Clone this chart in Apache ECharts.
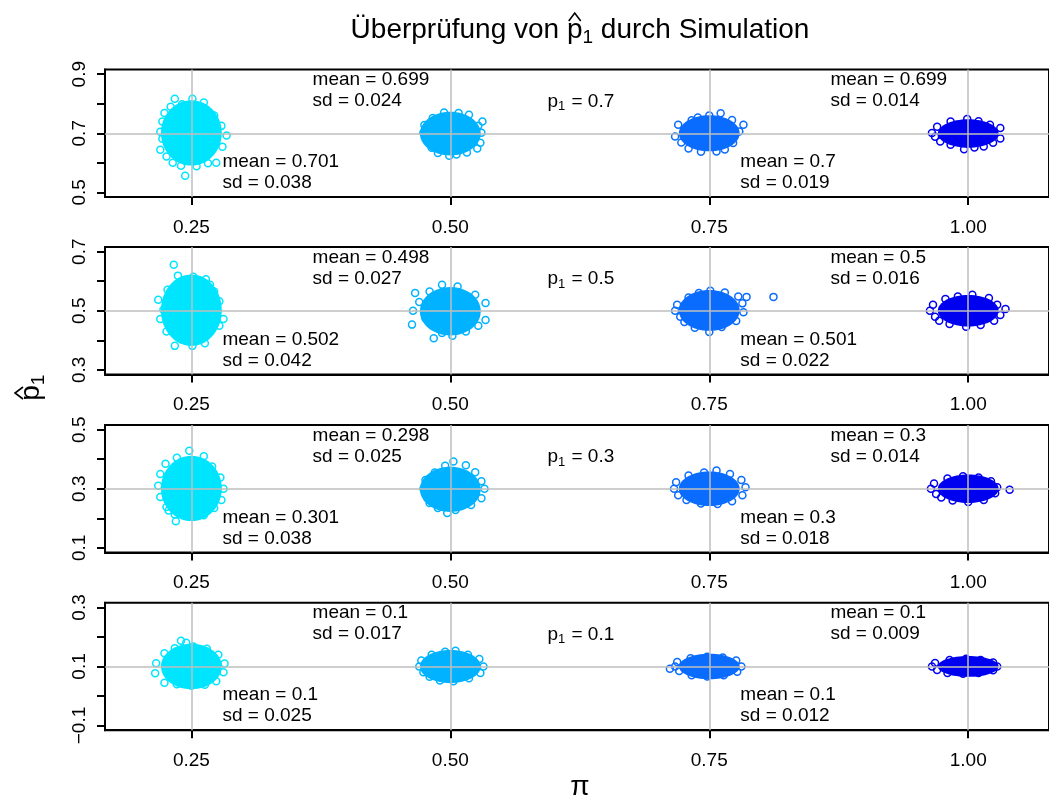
<!DOCTYPE html>
<html>
<head>
<meta charset="utf-8">
<title>Überprüfung von p1 durch Simulation</title>
<script src="https://cdn.jsdelivr.net/npm/echarts@6/dist/echarts.min.js"></script>
<style>
  html, body { margin: 0; background: #fff; }
  #main { width: 1049px; height: 800px; }
</style>
</head>
<body>
<div id="main"></div>
<script>
// Daten
var piVals = [0.25, 0.5, 0.75, 1.0];
var pTrue = [0.7, 0.5, 0.3, 0.1];
var meanVals = [
  [0.701, 0.699, 0.7, 0.699],
  [0.502, 0.498, 0.501, 0.5],
  [0.301, 0.298, 0.3, 0.3],
  [0.1, 0.1, 0.1, 0.1]
];
var sdVals = [
  [0.038, 0.024, 0.019, 0.014],
  [0.042, 0.027, 0.022, 0.016],
  [0.038, 0.025, 0.018, 0.014],
  [0.025, 0.017, 0.012, 0.009]
];
var xTicks = [0.25, 0.5, 0.75, 1.0];
var xTickLabels = ['0.25', '0.50', '0.75', '1.00'];
var yTicks = [
  [0.5, 0.6, 0.7, 0.8, 0.9],
  [0.3, 0.4, 0.5, 0.6, 0.7],
  [0.1, 0.2, 0.3, 0.4, 0.5],
  [-0.1, 0, 0.1, 0.2, 0.3]
];
var yTickLabels = [
  [0.5, 0.7, 0.9],
  [0.3, 0.5, 0.7],
  [0.1, 0.3, 0.5],
  [-0.1, 0.1, 0.3]
];

// sichtbare Randpunkte der Punktwolken (je Panel, je pi)
var edge07 = [
  [[0.234,0.817],[0.251,0.817],[0.262,0.804],[0.224,0.769],[0.222,0.740],[0.220,0.705],[0.222,0.681],[0.220,0.644],[0.226,0.621],[0.232,0.600],[0.240,0.590],[0.244,0.556],[0.255,0.588],[0.266,0.598],[0.274,0.600],[0.280,0.654],[0.284,0.692],[0.279,0.725],[0.272,0.760],[0.262,0.785],[0.241,0.798],[0.230,0.790]],
  [[0.531,0.740],[0.475,0.728],[0.474,0.702],[0.477,0.678],[0.482,0.651],[0.488,0.633],[0.499,0.624],[0.506,0.628],[0.516,0.635],[0.526,0.648],[0.529,0.668],[0.530,0.702],[0.527,0.725],[0.518,0.763],[0.508,0.769],[0.494,0.770],[0.483,0.752]],
  [[0.717,0.689],[0.720,0.729],[0.739,0.753],[0.750,0.760],[0.761,0.768],[0.772,0.745],[0.783,0.729],[0.779,0.706],[0.773,0.667],[0.757,0.638],[0.742,0.637],[0.730,0.648],[0.723,0.669],[0.765,0.645],[0.733,0.744]],
  [[0.965,0.701],[0.968,0.688],[0.973,0.672],[0.983,0.661],[0.996,0.646],[1.006,0.652],[1.015,0.655],[1.024,0.668],[1.031,0.682],[1.031,0.718],[1.021,0.729],[1.010,0.741],[0.999,0.748],[0.983,0.740],[0.970,0.722]]
];
var edge05 = [
  [[0.233,0.656],[0.237,0.619],[0.252,0.615],[0.264,0.607],[0.268,0.588],[0.227,0.571],[0.218,0.537],[0.223,0.503],[0.220,0.472],[0.226,0.430],[0.234,0.381],[0.242,0.402],[0.251,0.381],[0.263,0.390],[0.277,0.449],[0.281,0.472],[0.277,0.532],[0.272,0.565]],
  [[0.466,0.560],[0.464,0.500],[0.463,0.453],[0.470,0.530],[0.476,0.475],[0.484,0.407],[0.492,0.425],[0.502,0.415],[0.515,0.430],[0.527,0.449],[0.534,0.469],[0.534,0.526],[0.524,0.554],[0.507,0.582],[0.492,0.588],[0.480,0.565]],
  [[0.717,0.500],[0.719,0.520],[0.722,0.480],[0.730,0.545],[0.740,0.560],[0.751,0.568],[0.765,0.562],[0.778,0.548],[0.786,0.547],[0.812,0.547],[0.782,0.525],[0.783,0.495],[0.776,0.465],[0.762,0.445],[0.750,0.428],[0.736,0.442],[0.726,0.462]],
  [[0.963,0.500],[0.966,0.520],[0.968,0.480],[0.978,0.540],[0.990,0.548],[1.004,0.554],[1.020,0.543],[1.036,0.506],[1.031,0.486],[1.025,0.466],[1.012,0.452],[0.998,0.446],[0.982,0.455],[0.972,0.466],[1.028,0.520]]
];
var edge03 = [
  [[0.236,0.405],[0.248,0.429],[0.262,0.410],[0.225,0.385],[0.220,0.350],[0.218,0.310],[0.220,0.272],[0.226,0.238],[0.234,0.213],[0.235,0.190],[0.248,0.205],[0.262,0.210],[0.272,0.235],[0.279,0.262],[0.281,0.300],[0.278,0.338],[0.270,0.375],[0.228,0.226]],
  [[0.474,0.300],[0.476,0.330],[0.478,0.268],[0.485,0.355],[0.495,0.378],[0.503,0.392],[0.515,0.380],[0.524,0.356],[0.530,0.325],[0.533,0.300],[0.530,0.268],[0.520,0.245],[0.505,0.228],[0.497,0.218],[0.488,0.235],[0.480,0.252]],
  [[0.716,0.300],[0.718,0.322],[0.720,0.278],[0.730,0.345],[0.745,0.355],[0.757,0.362],[0.770,0.350],[0.781,0.330],[0.785,0.305],[0.782,0.278],[0.772,0.258],[0.758,0.248],[0.742,0.250],[0.728,0.262]],
  [[0.964,0.300],[0.967,0.318],[0.969,0.282],[0.980,0.335],[0.995,0.342],[1.010,0.338],[1.022,0.325],[1.028,0.305],[1.040,0.297],[1.026,0.285],[1.015,0.262],[1.000,0.255],[0.985,0.260],[0.974,0.270]]
];
var edge01 = [
  [[0.215,0.077],[0.216,0.111],[0.224,0.045],[0.224,0.145],[0.234,0.162],[0.240,0.187],[0.236,0.040],[0.250,0.035],[0.263,0.038],[0.274,0.050],[0.281,0.080],[0.282,0.110],[0.276,0.140],[0.265,0.160],[0.252,0.168],[0.245,0.180]],
  [[0.470,0.100],[0.472,0.120],[0.474,0.080],[0.482,0.140],[0.495,0.150],[0.505,0.153],[0.517,0.140],[0.528,0.125],[0.532,0.100],[0.529,0.078],[0.518,0.060],[0.503,0.050],[0.490,0.052],[0.480,0.065]],
  [[0.717,0.100],[0.719,0.115],[0.721,0.085],[0.732,0.128],[0.748,0.133],[0.763,0.130],[0.776,0.120],[0.781,0.100],[0.777,0.082],[0.764,0.070],[0.748,0.066],[0.733,0.070],[0.712,0.092]],
  [[0.965,0.100],[0.968,0.112],[0.970,0.088],[0.982,0.122],[0.998,0.126],[1.012,0.122],[1.024,0.113],[1.028,0.100],[1.024,0.087],[1.010,0.078],[0.995,0.075],[0.980,0.078]]
];
var edgePoints = [edge07, edge05, edge03, edge01];

var colors = ['#00E5FF', '#00B2FF', '#0A6CFF', '#0000F0'];
var FONT = '"Liberation Sans", Arial, sans-serif';
var FS = 19;

// Kern der Wolke: Ellipse um (pi, mean), Höhe aus sd
var CORE_RX = 0.026;
var CORE_K = 2.6;
var PT_R = 3.5;
var Y_PAD = 0.216;   // Achsenbereich p +/- Y_PAD

var chart = echarts.init(document.getElementById('main'));
var gridTops = [69.5, 247, 425, 602.7];
var grids = [], xAxes = [], yAxes = [], series = [];

function fmtNum(v) {
  var s = v.toFixed(1);
  return s.charAt(0) === '-' ? '\u2212' + s.slice(1) : s;
}

pTrue.forEach(function (p, k) {
  grids.push({
    left: 105, width: 947, top: gridTops[k], height: 127.5,
    show: true, borderColor: '#000', borderWidth: 2, backgroundColor: 'transparent'
  });
  xAxes.push({
    gridIndex: k, type: 'value', min: 0.1666, max: 1.078,
    axisLine: {show: true, onZero: false, lineStyle: {color: '#000', width: 2}},
    splitLine: {show: false},
    axisTick: {show: true, customValues: xTicks, length: 8, lineStyle: {color: '#000', width: 2}},
    axisLabel: {
      customValues: xTicks, margin: 21, fontSize: FS, color: '#000', fontFamily: FONT,
      formatter: function (v) { return xTickLabels[xTicks.indexOf(v)]; }
    }
  });
  yAxes.push({
    gridIndex: k, type: 'value', min: p - Y_PAD, max: p + Y_PAD,
    axisLine: {show: true, onZero: false, lineStyle: {color: '#000', width: 2}},
    splitLine: {show: false},
    axisTick: {show: true, customValues: yTicks[k], length: 8, lineStyle: {color: '#000', width: 2}},
    axisLabel: {
      customValues: yTickLabels[k], rotate: 90, margin: 16, fontSize: FS, color: '#000', fontFamily: FONT,
      formatter: fmtNum
    }
  });

  // Gitterlinien
  series.push({
    type: 'scatter', xAxisIndex: k, yAxisIndex: k, data: [], z: 1, silent: true,
    markLine: {
      silent: true, symbol: 'none', animation: false,
      label: {show: false},
      lineStyle: {color: '#BEBEBE', width: 1.5, type: 'solid'},
      data: xTicks.map(function (x) { return {xAxis: x}; }).concat([{yAxis: p}])
    }
  });

  // dichter Kern
  series.push({
    type: 'custom', xAxisIndex: k, yAxisIndex: k, z: 2, silent: true,
    data: piVals.map(function (x, i) { return [x, meanVals[k][i], sdVals[k][i], i]; }),
    renderItem: function (params, api) {
      var c = api.coord([api.value(0), api.value(1)]);
      var s = api.size([CORE_RX, CORE_K * api.value(2)]);
      return {
        type: 'ellipse',
        shape: {cx: c[0], cy: c[1], rx: s[0] + PT_R, ry: s[1] + PT_R},
        style: {fill: colors[api.value(3)]}
      };
    }
  });

  // offene Kreise am Rand
  piVals.forEach(function (x, i) {
    series.push({
      type: 'scatter', xAxisIndex: k, yAxisIndex: k, z: 3, silent: true,
      data: edgePoints[k][i],
      symbol: 'circle', symbolSize: 2 * PT_R,
      itemStyle: {color: 'rgba(0,0,0,0)', borderColor: colors[i], borderWidth: 1.5, opacity: 1}
    });
  });

  // Beschriftungen mean / sd
  series.push({
    type: 'scatter', xAxisIndex: k, yAxisIndex: k, z: 4, silent: true,
    symbolSize: 0, itemStyle: {opacity: 1},
    data: piVals.map(function (x, i) {
      var top = (i % 2 === 1);
      return [top ? x - 0.133 : x + 0.03, top ? p + 0.216 : p - 0.062, meanVals[k][i], sdVals[k][i]];
    }),
    label: {
      show: true, position: [0, 0], align: 'left', verticalAlign: 'top',
      fontSize: FS, lineHeight: 21, color: '#000', fontFamily: FONT,
      textBorderWidth: 0, textBorderColor: 'transparent',
      formatter: function (d) {
        return 'mean = ' + String(d.value[2]) + '\nsd = ' + d.value[3].toFixed(3);
      }
    }
  });

  // p1 = ...
  series.push({
    type: 'scatter', xAxisIndex: k, yAxisIndex: k, z: 4, silent: true,
    symbolSize: 0, itemStyle: {opacity: 1},
    data: [[0.626, p + 0.107, p]],
    label: {
      show: true, position: [0, 0], align: 'center', verticalAlign: 'middle',
      textBorderWidth: 0, textBorderColor: 'transparent',
      formatter: function (d) { return '{a|p}{s|1}{a| = ' + String(d.value[2]) + '}'; },
      rich: {
        a: {fontSize: 19, fontFamily: FONT, color: '#000'},
        s: {fontSize: 13, fontFamily: FONT, color: '#000', padding: [10, 1, 0, 0]}
      }
    }
  });
});

chart.setOption({
  animation: false,
  backgroundColor: '#fff',
  grid: grids,
  xAxis: xAxes,
  yAxis: yAxes,
  series: series
});

// Titel mit Dach über p
var ctx = document.createElement('canvas').getContext('2d');
function textW(str, size) {
  ctx.font = size + 'px "Liberation Sans"';
  return ctx.measureText(str).width;
}
var TS = 28, SS = 19;
var t1 = 'Überprüfung von ', t2 = ' durch Simulation';
var w1 = textW(t1, TS), wp = textW('p', TS), ws = textW('1', SS), w2 = textW(t2, TS);
var x0 = 580 - (w1 + wp + ws + w2) / 2;
var ty = 30;
var pc = x0 + w1 + wp / 2;

chart.setOption({
  graphic: [
    {type: 'text', x: x0, y: ty, style: {text: t1, fontSize: TS, fontFamily: FONT, fill: '#000', align: 'left', verticalAlign: 'middle'}},
    {type: 'text', x: x0 + w1, y: ty, style: {text: 'p', fontSize: TS, fontFamily: FONT, fill: '#000', align: 'left', verticalAlign: 'middle'}},
    {type: 'polyline', shape: {points: [[pc - 6, ty - 9], [pc, ty - 17], [pc + 6, ty - 9]]}, style: {stroke: '#000', lineWidth: 1.6, fill: null}},
    {type: 'text', x: x0 + w1 + wp, y: ty + 8, style: {text: '1', fontSize: SS, fontFamily: FONT, fill: '#000', align: 'left', verticalAlign: 'middle'}},
    {type: 'text', x: x0 + w1 + wp + ws, y: ty, style: {text: t2, fontSize: TS, fontFamily: FONT, fill: '#000', align: 'left', verticalAlign: 'middle'}},
    {
      type: 'group', x: 31, y: 393, rotation: Math.PI / 2,
      children: [
        {type: 'text', x: 0, y: 0, style: {text: 'p', fontSize: TS, fontFamily: FONT, fill: '#000', align: 'center', verticalAlign: 'middle'}},
        {type: 'polyline', shape: {points: [[-6, -8], [0, -16], [6, -8]]}, style: {stroke: '#000', lineWidth: 1.6, fill: null}},
        {type: 'text', x: wp / 2, y: 8, style: {text: '1', fontSize: SS, fontFamily: FONT, fill: '#000', align: 'left', verticalAlign: 'middle'}}
      ]
    },
    {
      type: 'text', x: 580, y: 787,
      style: {text: 'π', fontSize: 28, fontFamily: FONT, fill: '#000', align: 'center', verticalAlign: 'middle'}
    }
  ]
});
</script>
</body>
</html>
